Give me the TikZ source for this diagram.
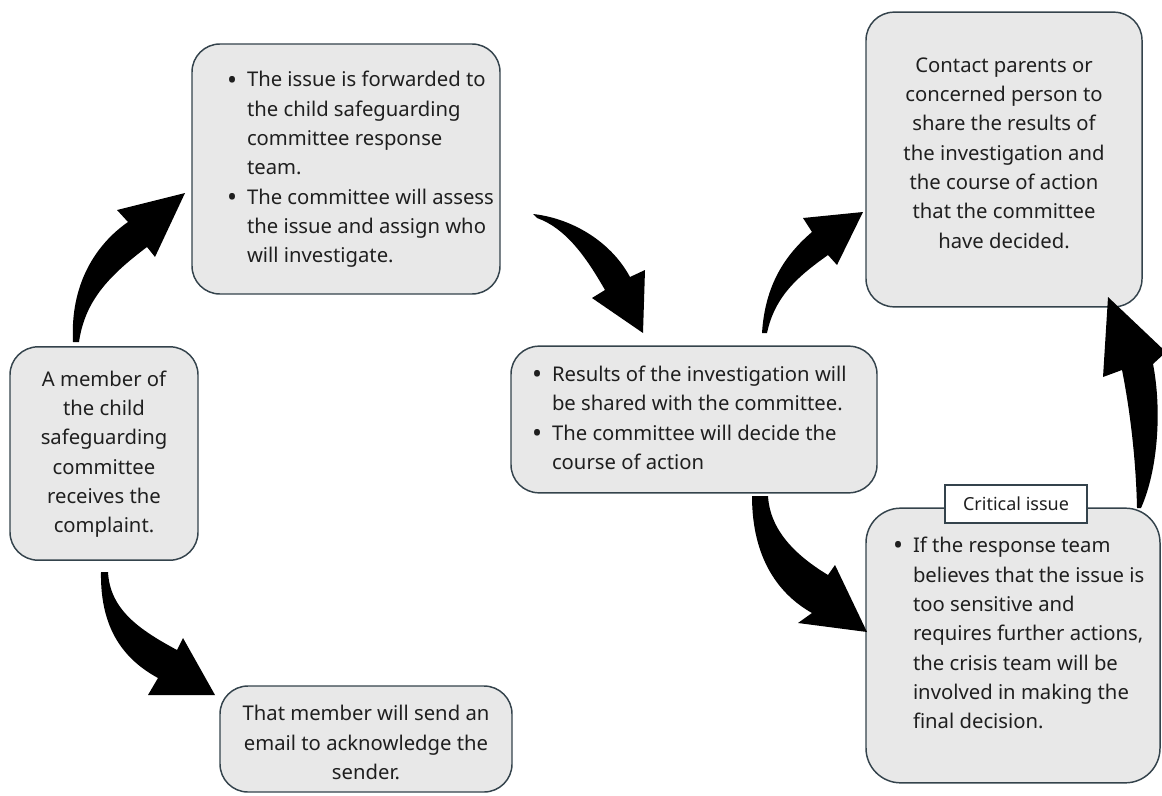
\documentclass[tikz,border=0pt]{standalone}
\usepackage{fontspec}
\setmainfont{Noto Sans}
\definecolor{boxfill}{HTML}{E8E8E8}
\definecolor{boxline}{HTML}{34434C}
\newcommand{\bul}{\makebox[15pt][l]{\raisebox{-1.6pt}{\fontsize{20}{20}\selectfont\textbullet}}}
\begin{document}
\begin{tikzpicture}[x=0.75pt,y=-0.75pt,
  box/.style={draw=boxline, fill=boxfill, line width=1.1pt, rounded corners=21pt,
    inner sep=0pt, font=\fontsize{15.2}{22}\selectfont, text=black!88},
  tag/.style={draw=boxline, fill=white, line width=0.8pt, inner sep=0pt,
    font=\fontsize{13.5}{15}\selectfont, text=black!88},
  blockarrow/.style={fill=black, draw=none}]
\useasboundingbox (0,0) rectangle (1162,795);

% boxes
\node[box, minimum width=141pt, minimum height=160pt] (A) at (104,453.5)
  {\begin{tabular}{@{}c@{}}A member of\\the child\\safeguarding\\committee\\receives the\\complaint.\end{tabular}};

\node[box, minimum width=231pt, minimum height=187.5pt] (B) at (346,169)
  {\makebox[178.5pt][l]{\begin{tabular}{@{}l@{}l@{}}
   \bul & The issue is forwarded to\\
        & the child safeguarding\\
        & committee response\\
        & team.\\
   \bul & The committee will assess\\
        & the issue and assign who\\
        & will investigate.\end{tabular}}};

\node[box, minimum width=274.5pt, minimum height=110pt] (C) at (694,419.5)
  {\makebox[243pt][l]{\begin{tabular}{@{}l@{}l@{}}
   \bul & Results of the investigation will\\
        & be shared with the committee.\\
   \bul & The committee will decide the\\
        & course of action\end{tabular}}};

\node[box, minimum width=207pt, minimum height=221pt] (D) at (1004,159.5)
  {\raisebox{0pt}[\height][\dimexpr\depth+8pt]{\begin{tabular}{@{}c@{}}Contact parents or\\concerned person to\\share the results of\\the investigation and\\the course of action\\that the committee\\have decided.\end{tabular}}};

\node[box, rounded corners=26pt, minimum width=220.5pt, minimum height=206pt] (E) at (1013,645.5)
  {\makebox[180pt][l]{\raisebox{0pt}[\height][\dimexpr\depth+16pt]{\begin{tabular}{@{}l@{}l@{}}
   \bul & If the response team\\
        & believes that the issue is\\
        & too sensitive and\\
        & requires further actions,\\
        & the crisis team will be\\
        & involved in making the\\
        & final decision.\end{tabular}}}};

\node[box, minimum width=219pt, minimum height=79.5pt] (F) at (366,739)
  {\raisebox{0pt}[\dimexpr\height+8pt][\depth]{\begin{tabular}{@{}c@{}}That member will send an\\email to acknowledge the\\sender.\end{tabular}}};

\node[tag, minimum width=106.5pt, minimum height=28.5pt] (L) at (1016,504) {Critical issue};

% curved block arrows
% A -> B
\fill[blockarrow] (73,342) .. controls (70,285) and (95,245) .. (128,222) -- (117,210)
  -- (185,193) -- (155,257) -- (147,247) .. controls (110,275) and (85,300) .. (79,342) -- cycle;
% B -> C
\fill[blockarrow] (533,214) .. controls (570,218) and (610,240) .. (630,277) -- (645,270)
  -- (643,333) -- (592,298) -- (605,290) .. controls (585,255) and (565,228) .. (537,218) -- cycle;
% C -> D
\fill[blockarrow] (762,333) .. controls (765,285) and (785,255) .. (812,232) -- (803,218)
  -- (863,212) -- (837,265) -- (828,255) .. controls (800,275) and (775,295) .. (767,333) -- cycle;
% E -> D
\fill[blockarrow] (1137,508) .. controls (1136,460) and (1130,410) .. (1122,370) -- (1103,377)
  -- (1108,297) -- (1166,352) -- (1153,364) .. controls (1162,410) and (1158,470) .. (1141,508) -- cycle;
% C -> E
\fill[blockarrow] (752,496) .. controls (752,560) and (780,595) .. (812,613) -- (798,623)
  -- (867,632) -- (835,565) -- (828,575) .. controls (795,555) and (770,530) .. (768,496) -- cycle;
% A -> F
\fill[blockarrow] (101,572) .. controls (100,630) and (125,660) .. (158,678) -- (148,695)
  -- (215,695) -- (183,638) -- (177,650) .. controls (140,630) and (110,610) .. (108,572) -- cycle;
\end{tikzpicture}
\end{document}
